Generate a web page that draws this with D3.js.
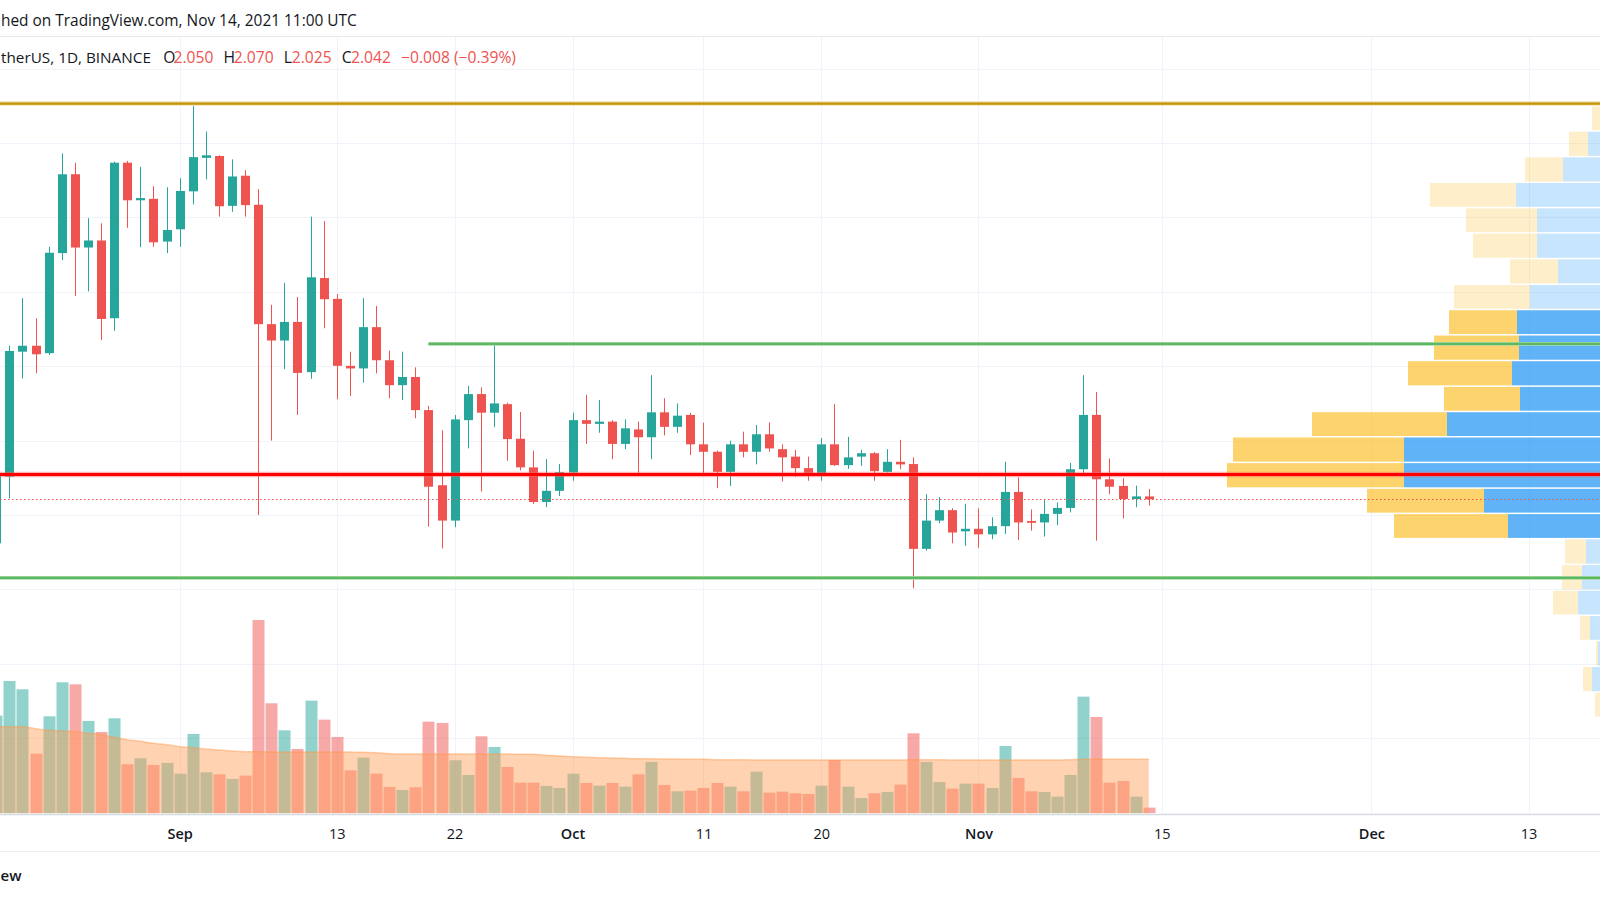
<!DOCTYPE html>
<html>
<head>
<meta charset="utf-8">
<script src="https://cdn.jsdelivr.net/npm/d3@7"></script>
<style>
  html, body { margin: 0; padding: 0; background: #ffffff; }
  svg { display: block; }
  text { font-family: "Open Sans", "DejaVu Sans", sans-serif; fill: #131722; }
</style>
</head>
<body>
<svg id="chart" width="1600" height="900"></svg>
<script>
// ---------------- DATA ----------------
const dates = [
  "2021-08-18","2021-08-19","2021-08-20","2021-08-21","2021-08-22","2021-08-23","2021-08-24","2021-08-25","2021-08-26","2021-08-27","2021-08-28","2021-08-29","2021-08-30","2021-08-31",
  "2021-09-01","2021-09-02","2021-09-03","2021-09-04","2021-09-05","2021-09-06","2021-09-07","2021-09-08","2021-09-09","2021-09-10","2021-09-11","2021-09-12","2021-09-13","2021-09-14","2021-09-15","2021-09-16","2021-09-17","2021-09-18","2021-09-19","2021-09-20","2021-09-21","2021-09-22","2021-09-23","2021-09-24","2021-09-25","2021-09-26","2021-09-27","2021-09-28","2021-09-29","2021-09-30",
  "2021-10-01","2021-10-02","2021-10-03","2021-10-04","2021-10-05","2021-10-06","2021-10-07","2021-10-08","2021-10-09","2021-10-10","2021-10-11","2021-10-12","2021-10-13","2021-10-14","2021-10-15","2021-10-16","2021-10-17","2021-10-18","2021-10-19","2021-10-20","2021-10-21","2021-10-22","2021-10-23","2021-10-24","2021-10-25","2021-10-26","2021-10-27","2021-10-28","2021-10-29","2021-10-30","2021-10-31",
  "2021-11-01","2021-11-02","2021-11-03","2021-11-04","2021-11-05","2021-11-06","2021-11-07","2021-11-08","2021-11-09","2021-11-10","2021-11-11","2021-11-12","2021-11-13","2021-11-14"
];
const opens = [
  1.924,2.103,2.439,2.455,2.435,2.704,2.916,2.719,2.738,2.529,2.947,2.846,2.850,2.735,
  2.768,2.870,2.960,2.965,2.831,2.912,2.834,2.513,2.469,2.519,2.384,2.637,2.581,2.401,2.394,2.505,2.416,2.349,2.371,2.282,2.080,1.985,2.255,2.325,2.275,2.298,2.205,2.128,2.035,2.065,
  2.114,2.255,2.245,2.251,2.191,2.230,2.209,2.276,2.237,2.269,2.190,2.170,2.116,2.190,2.170,2.217,2.177,2.157,2.126,2.108,2.190,2.134,2.157,2.166,2.116,2.143,2.137,1.909,1.985,2.013,1.956,
  1.963,1.948,1.970,2.062,1.984,1.980,2.003,2.019,2.123,2.269,2.096,2.078,2.043,2.050
];
const highs = [
  2.121,2.455,2.583,2.529,2.721,2.972,2.947,2.798,2.784,2.950,2.952,2.936,2.884,2.881,
  2.905,3.100,3.031,2.967,2.956,2.927,2.876,2.565,2.624,2.586,2.802,2.790,2.594,2.439,2.583,2.562,2.442,2.439,2.397,2.293,2.228,2.269,2.347,2.343,2.460,2.302,2.277,2.173,2.150,2.137,
  2.275,2.323,2.309,2.255,2.257,2.251,2.376,2.314,2.300,2.275,2.248,2.173,2.200,2.224,2.242,2.249,2.190,2.175,2.157,2.207,2.298,2.210,2.175,2.169,2.177,2.202,2.155,2.056,2.048,2.018,2.030,
  2.018,1.994,2.143,2.101,2.015,2.040,2.034,2.140,2.376,2.331,2.152,2.099,2.079,2.070
];
const lows = [
  1.911,2.045,2.367,2.381,2.430,2.685,2.589,2.601,2.470,2.495,2.772,2.720,2.721,2.704,
  2.721,2.835,2.902,2.802,2.815,2.802,2.000,2.200,2.392,2.269,2.366,2.502,2.311,2.320,2.356,2.381,2.314,2.309,2.260,1.969,1.910,1.967,2.179,2.063,2.236,2.146,2.120,2.030,2.021,2.051,
  2.092,2.191,2.221,2.150,2.177,2.110,2.150,2.214,2.221,2.161,2.108,2.072,2.078,2.155,2.136,2.170,2.090,2.103,2.092,2.092,2.132,2.124,2.132,2.092,2.114,2.123,1.803,1.904,1.978,1.924,1.917,
  1.912,1.935,1.949,1.933,1.958,1.942,1.973,2.007,2.105,1.931,2.056,1.991,2.021,2.025
];
const closes = [
  2.110,2.441,2.455,2.432,2.705,2.916,2.719,2.738,2.527,2.947,2.846,2.852,2.733,2.766,
  2.871,2.962,2.967,2.830,2.910,2.833,2.513,2.469,2.519,2.382,2.639,2.580,2.401,2.394,2.505,2.416,2.349,2.371,2.282,2.076,1.985,2.257,2.325,2.275,2.300,2.204,2.128,2.035,2.065,2.115,
  2.255,2.245,2.251,2.191,2.233,2.209,2.276,2.237,2.267,2.190,2.170,2.116,2.190,2.170,2.217,2.179,2.155,2.126,2.108,2.190,2.134,2.155,2.166,2.118,2.143,2.136,1.909,1.985,2.013,1.953,1.963,
  1.948,1.970,2.062,1.980,1.979,2.003,2.019,2.123,2.269,2.096,2.076,2.043,2.050,2.042
];
// volume (millions)
const volumes = [
  293,397,372,179,291,393,387,277,244,285,147,165,145,151,
  119,238,123,117,103,113,580,330,249,193,338,281,229,129,167,119,79,70,78,275,271,159,115,231,199,139,92,92,82,76,
  119,91,83,91,80,117,154,85,66,68,76,91,80,66,125,62,65,60,58,83,160,80,46,60,64,86,240,154,94,74,89,
  89,76,202,106,66,64,50,115,350,289,92,97,50,17
];
// volume moving average
const volumeMA = [
  260,260,260,254,249,247,245,240,236,228,221,216,210,206,
  200,197,193,190,187,185,185,184,184,184,184,184,184,184,183,182,179,178,178,178,178,178,178,178,178,178,177,177,174,172,
  170,168,167,166,165,164,164,163,163,162,162,161,161,161,160,160,160,160,160,160,160,160,160,160,160,160,161,161,161,160,160,
  160,160,160,160,160,160,160,161,162,163,162,162,162,162
];
// time axis
const tickDates = ["2021-09-01","2021-09-13","2021-09-22","2021-10-01","2021-10-11","2021-10-20","2021-11-01","2021-11-15","2021-12-01","2021-12-13"];
const tickLabels = ["Sep","13","22","Oct","11","20","Nov","15","Dec","13"];
const tickIsMonth = [true,false,false,true,false,false,true,false,true,false];
// price grid levels
const priceGrid = [1.4,1.6,1.8,2.0,2.2,2.4,2.6,2.8,3.0,3.2];
// drawn horizontal levels
const levelATH = 3.106;
const levelResistance = 2.46;
const levelResistanceStart = "2021-09-20";
const levelPivot = 2.109;
const levelSupport = 1.831;
const lastPrice = 2.042;
// volume profile (visible range), rows from top to bottom
const vpRowTop = [3.100,3.032,2.963,2.894,2.826,2.758,2.689,2.620,2.552,2.484,2.415,2.346,2.278,2.210,2.141,2.072,2.004,1.936,1.867,1.798,1.730,1.662,1.593,1.524];
const vpRowBottomLast = 1.456;
const vpUp   = [0,12,37,84,63,63,42,70,83,81,88,80,153,196,196,116,92,14,18,22,10,2,8,0];
const vpDown = [8,19,38,86,71,64,48,76,68,85,104,76,135,171,177,117,114,21,20,25,10,2,9,5];
const vpValueArea = [0,0,0,0,0,0,0,0,1,1,1,1,1,1,1,1,1,0,0,0,0,0,0,0];
// legend texts (as visible in the cropped snapshot)
const headerText = "hed on TradingView.com, Nov 14, 2021 11:00 UTC";
const symbolText = "therUS, 1D, BINANCE";
const ohlcLabels = ["O","H","L","C"];
const ohlcValues = ["2.050","2.070","2.025","2.042"];
const changeText = "\u22120.008 (\u22120.39%)";
const logoText = "ew";

// ---------------- CHART ----------------
const parse = d3.utcParse("%Y-%m-%d");
const W = 1600, H = 900;
const paneTop = 37, paneBottom = 813.5;
const svg = d3.select("#chart");

const x = d3.scaleUtc()
  .domain([parse("2021-09-01"), parse("2021-12-01")])
  .range([179.6, 1371.4]);
const y = d3.scaleLinear().domain([2.0, 3.0]).range([515, 143]);
const vy = d3.scaleLinear().domain([0, 600]).range([813.3, 613.3]);

const candles = dates.map((d, i) => ({
  date: parse(d), o: opens[i], h: highs[i], l: lows[i], c: closes[i],
  v: volumes[i], ma: volumeMA[i], up: closes[i] >= opens[i]
}));

const crisp = v => Math.round(v) + 0.5;
function fitWidth(sel, target, base) {
  sel.attr("font-size", base);
  const w = sel.node().getComputedTextLength();
  const fs = base * target / w;
  sel.attr("font-size", fs);
  return fs;
}

svg.append("rect").attr("width", W).attr("height", H).attr("fill", "#ffffff");

const defs = svg.append("defs");
defs.append("clipPath").attr("id", "pane")
  .append("rect").attr("x", 0).attr("y", paneTop).attr("width", W).attr("height", paneBottom - paneTop);

const pane = svg.append("g").attr("clip-path", "url(#pane)");

// grid
pane.append("g").selectAll("line").data(priceGrid).join("line")
  .attr("x1", 0).attr("x2", W)
  .attr("y1", d => crisp(y(d))).attr("y2", d => crisp(y(d)))
  .attr("stroke", "#f0f3fa").attr("stroke-width", 1);
pane.append("g").selectAll("line").data(tickDates).join("line")
  .attr("x1", d => crisp(x(parse(d)))).attr("x2", d => crisp(x(parse(d))))
  .attr("y1", paneTop).attr("y2", paneBottom)
  .attr("stroke", "#f0f3fa").attr("stroke-width", 1);

// volume profile
const vpX = d3.scaleLinear().domain([0, 400]).range([0, 400]);
const vpRight = W;
const vpRows = vpRowTop.map((t, i) => ({
  top: t,
  bottom: i < vpRowTop.length - 1 ? vpRowTop[i + 1] : vpRowBottomLast,
  up: vpUp[i], down: vpDown[i], va: vpValueArea[i]
}));
const vpG = pane.append("g");
vpRows.forEach(r => {
  const y0 = y(r.top) + 0.6, y1 = y(r.bottom) - 0.9;
  const wUp = vpX(r.up), wDown = vpX(r.down);
  vpG.append("rect")
    .attr("x", vpRight - wUp - wDown).attr("y", y0)
    .attr("width", wDown).attr("height", y1 - y0)
    .attr("fill", r.va ? "rgba(251,192,45,0.7)" : "rgba(251,192,45,0.25)");
  vpG.append("rect")
    .attr("x", vpRight - wUp).attr("y", y0)
    .attr("width", wUp).attr("height", y1 - y0)
    .attr("fill", r.va ? "rgba(33,150,243,0.72)" : "rgba(33,150,243,0.25)");
});

// volume bars
pane.append("g").selectAll("rect").data(candles).join("rect")
  .attr("x", d => Math.round(x(d.date)) - 5.5)
  .attr("width", 12)
  .attr("y", d => vy(d.v))
  .attr("height", d => vy(0) - vy(d.v))
  .attr("fill", d => d.up ? "rgba(38,166,154,0.5)" : "rgba(239,83,80,0.5)");

// volume MA area
const area = d3.area()
  .x(d => x(d.date)).y0(vy(0)).y1(d => vy(d.ma))
  .curve(d3.curveMonotoneX);
const line = d3.line().x(d => x(d.date)).y(d => vy(d.ma)).curve(d3.curveMonotoneX);
pane.append("path").datum(candles).attr("d", area)
  .attr("fill", "rgba(255,156,87,0.46)");
pane.append("path").datum(candles).attr("d", line)
  .attr("fill", "none").attr("stroke", "rgba(255,150,70,0.45)").attr("stroke-width", 1.5);

// candles
const cg = pane.append("g");
cg.selectAll("line").data(candles).join("line")
  .attr("x1", d => Math.round(x(d.date)) + 0.5).attr("x2", d => Math.round(x(d.date)) + 0.5)
  .attr("y1", d => y(d.h)).attr("y2", d => y(d.l))
  .attr("stroke", d => d.up ? "#26a69a" : "#ef5350").attr("stroke-width", 1);
cg.selectAll("rect").data(candles).join("rect")
  .attr("x", d => Math.round(x(d.date)) - 4)
  .attr("width", 9)
  .attr("y", d => y(Math.max(d.o, d.c)))
  .attr("height", d => Math.max(1.5, Math.abs(y(d.o) - y(d.c))))
  .attr("fill", d => d.up ? "#26a69a" : "#ef5350");

// horizontal levels
function level(price, x0, colorHalo, colorCore, wHalo, wCore) {
  const yy = y(price);
  pane.append("line").attr("x1", x0).attr("x2", W).attr("y1", yy).attr("y2", yy)
    .attr("stroke", colorHalo).attr("stroke-width", wHalo);
  pane.append("line").attr("x1", x0).attr("x2", W).attr("y1", yy).attr("y2", yy)
    .attr("stroke", colorCore).attr("stroke-width", wCore);
}
level(levelATH, 0, "#ecd48c", "#c4950f", 4, 2.2);
level(levelResistance, x(parse(levelResistanceStart)), "#a8dbaa", "#5eb862", 3.6, 2.2);
level(levelSupport, 0, "#a8dbaa", "#5eb862", 3.6, 2.2);
level(levelPivot, 0, "rgba(255,90,90,0.45)", "#ff0000", 5.5, 3);
pane.append("line").attr("x1", 0).attr("x2", W)
  .attr("y1", crisp(y(lastPrice))).attr("y2", crisp(y(lastPrice)))
  .attr("stroke", "#f0504d").attr("stroke-width", 1.2).attr("stroke-dasharray", "1.5 2.5");

// header row 1
svg.append("rect").attr("x", 0).attr("y", 0).attr("width", W).attr("height", 36).attr("fill", "#ffffff");
svg.append("line").attr("x1", 0).attr("x2", W).attr("y1", 36.5).attr("y2", 36.5)
  .attr("stroke", "#e6e9f0").attr("stroke-width", 1);
const h1 = svg.append("text").attr("x", 1).attr("y", 25.5).text(headerText);
fitWidth(h1, 356, 15);

// legend row 2
const lg = svg.append("g");
const chg = lg.append("text").attr("x", 401).attr("y", 62.5).style("fill", "#ef5350").text(changeText);
const fs2 = fitWidth(chg, 115, 15);
const sym = lg.append("text").attr("x", 1).attr("y", 62.5).text(symbolText);
fitWidth(sym, 150, fs2);
const labelX = [163.3, 223.5, 283.7, 341.8];
const valueX = [173.5, 233.7, 291.8, 351];
ohlcLabels.forEach((l, i) => {
  lg.append("text").attr("x", labelX[i]).attr("y", 62.5).attr("font-size", fs2).text(l);
  lg.append("text").attr("x", valueX[i]).attr("y", 62.5).attr("font-size", fs2)
    .style("fill", "#ef5350").text(ohlcValues[i]);
});

// time axis
svg.append("line").attr("x1", 0).attr("x2", W).attr("y1", 814.5).attr("y2", 814.5)
  .attr("stroke", "#d6d9e0").attr("stroke-width", 1.5);
svg.append("line").attr("x1", 0).attr("x2", W).attr("y1", 851.5).attr("y2", 851.5)
  .attr("stroke", "#eceef2").attr("stroke-width", 1);
const axis = d3.axisBottom(x)
  .tickValues(tickDates.map(parse))
  .tickFormat((d, i) => tickLabels[i])
  .tickSize(0).tickPadding(0);
const ag = svg.append("g").attr("transform", "translate(0,829)").call(axis);
ag.select(".domain").remove();
ag.selectAll("text")
  .attr("font-size", 14.5)
  .style("font-family", '"Open Sans", "DejaVu Sans", sans-serif')
  .style("fill", "#131722")
  .attr("font-weight", (d, i) => tickIsMonth[i] ? 600 : 400);

// logo text (visible part)
const logo = svg.append("text").attr("x", 0.5).attr("y", 881).attr("font-weight", 600).text(logoText);
fitWidth(logo, 21, 17);
</script>
</body>
</html>
